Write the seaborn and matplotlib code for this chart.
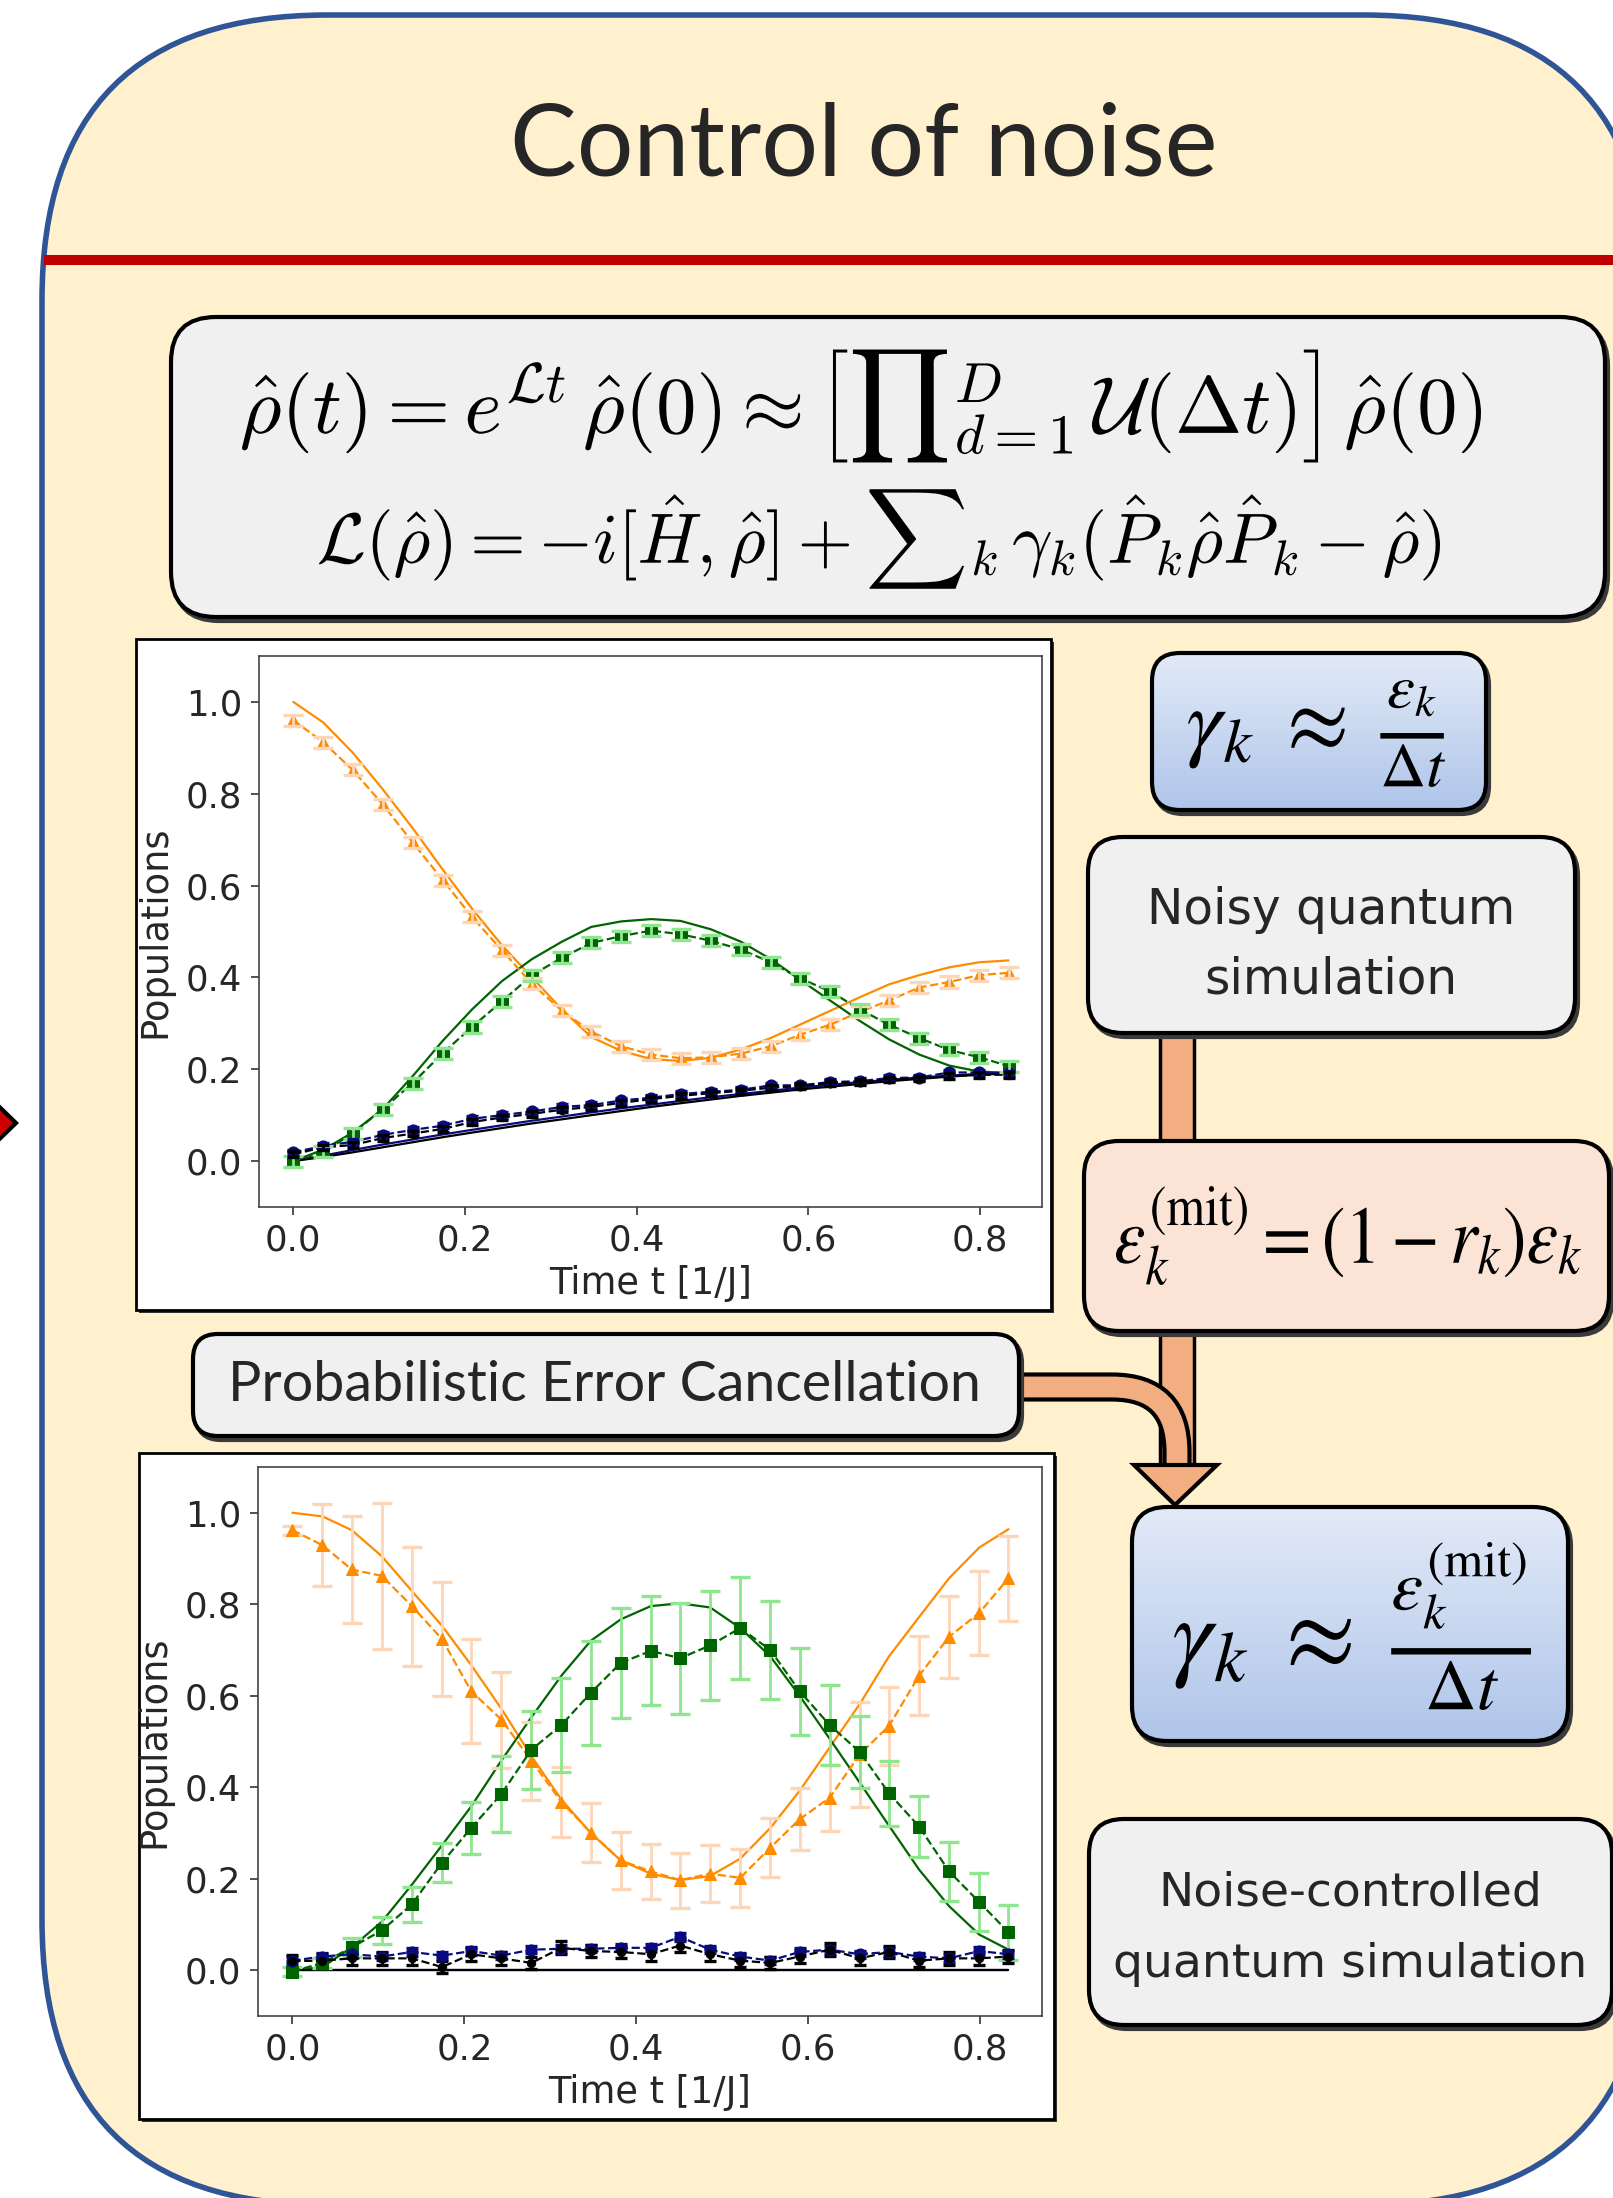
import numpy as np
import seaborn as sns
import matplotlib.pyplot as plt
from matplotlib.patches import FancyBboxPatch, Rectangle, Polygon, PathPatch
from matplotlib.path import Path
from matplotlib.textpath import TextPath
from matplotlib.font_manager import FontProperties
from matplotlib.transforms import Affine2D
from matplotlib.colors import to_rgb

sns.set_style("ticks")
plt.rcParams["font.family"] = ["DejaVu Sans"]
plt.rcParams["mathtext.fontset"] = "cm"

W, H = 1613, 2198

# time grid of the simulation points
times = [0.000, 0.035, 0.069, 0.104, 0.139, 0.174, 0.208, 0.243, 0.278, 0.313,
         0.347, 0.382, 0.417, 0.451, 0.486, 0.521, 0.556, 0.590, 0.625, 0.660,
         0.694, 0.729, 0.764, 0.799, 0.833]

# ---- noisy simulation (upper plot) ----
noisy_exact_orange = [1.000, 0.955, 0.890, 0.810, 0.725, 0.635, 0.550, 0.470, 0.400, 0.330,
                      0.270, 0.240, 0.222, 0.218, 0.225, 0.243, 0.268, 0.297, 0.327, 0.357,
                      0.385, 0.405, 0.422, 0.433, 0.437]
noisy_exact_green = [0.000, 0.025, 0.062, 0.113, 0.185, 0.262, 0.330, 0.392, 0.440, 0.478,
                     0.510, 0.522, 0.527, 0.523, 0.505, 0.478, 0.440, 0.395, 0.350, 0.305,
                     0.265, 0.232, 0.208, 0.195, 0.192]
noisy_exact_blue = [0.000, 0.012, 0.024, 0.036, 0.047, 0.058, 0.068, 0.078, 0.088, 0.097,
                    0.106, 0.115, 0.123, 0.131, 0.139, 0.146, 0.153, 0.160, 0.166, 0.172,
                    0.177, 0.182, 0.186, 0.190, 0.193]
noisy_exact_black = [0.000, 0.009, 0.019, 0.030, 0.041, 0.052, 0.062, 0.072, 0.082, 0.091,
                     0.100, 0.109, 0.118, 0.126, 0.134, 0.142, 0.149, 0.156, 0.162, 0.168,
                     0.174, 0.179, 0.184, 0.188, 0.191]
noisy_orange = [0.960, 0.912, 0.852, 0.777, 0.694, 0.612, 0.532, 0.459, 0.386, 0.327,
                0.282, 0.250, 0.232, 0.224, 0.226, 0.234, 0.250, 0.275, 0.297, 0.325,
                0.350, 0.378, 0.390, 0.405, 0.410]
noisy_green = [0.000, 0.020, 0.060, 0.113, 0.170, 0.235, 0.292, 0.348, 0.405, 0.443,
               0.475, 0.490, 0.502, 0.494, 0.480, 0.461, 0.433, 0.398, 0.370, 0.330,
               0.297, 0.268, 0.242, 0.226, 0.207]
noisy_blue = [0.019, 0.033, 0.042, 0.057, 0.068, 0.077, 0.092, 0.100, 0.108, 0.118,
              0.122, 0.132, 0.138, 0.146, 0.151, 0.155, 0.165, 0.165, 0.172, 0.174,
              0.181, 0.182, 0.193, 0.193, 0.191]
noisy_black = [0.015, 0.030, 0.035, 0.050, 0.060, 0.070, 0.085, 0.095, 0.103, 0.112,
               0.118, 0.127, 0.135, 0.142, 0.148, 0.153, 0.160, 0.163, 0.170, 0.172,
               0.178, 0.180, 0.185, 0.188, 0.188]
noisy_err_orange = [0.012] * 25
noisy_err_green = [0.012] * 25
noisy_err_blue = [0.006] * 25
noisy_err_black = [0.006] * 25

# ---- noise-controlled simulation (lower plot) ----
pec_exact_orange = [1.000, 0.992, 0.962, 0.905, 0.829, 0.753, 0.667, 0.572, 0.468, 0.373,
                    0.300, 0.240, 0.211, 0.197, 0.206, 0.244, 0.311, 0.392, 0.487, 0.582,
                    0.686, 0.772, 0.857, 0.924, 0.964]
pec_exact_green = [0.000, 0.007, 0.050, 0.106, 0.187, 0.273, 0.358, 0.458, 0.553, 0.644,
                   0.720, 0.767, 0.796, 0.802, 0.793, 0.748, 0.686, 0.600, 0.506, 0.410,
                   0.316, 0.220, 0.140, 0.078, 0.045]
pec_exact_blue = [0.0, 0.0, 0.0, 0.0, 0.0, 0.0, 0.0, 0.0, 0.0, 0.0, 0.0, 0.0, 0.0,
                  0.0, 0.0, 0.0, 0.0, 0.0, 0.0, 0.0, 0.0, 0.0, 0.0, 0.0, 0.0]
pec_exact_black = [0.0, 0.0, 0.0, 0.0, 0.0, 0.0, 0.0, 0.0, 0.0, 0.0, 0.0, 0.0, 0.0,
                   0.0, 0.0, 0.0, 0.0, 0.0, 0.0, 0.0, 0.0, 0.0, 0.0, 0.0, 0.0]
pec_orange = [0.962, 0.929, 0.876, 0.862, 0.796, 0.724, 0.610, 0.548, 0.458, 0.368,
              0.301, 0.240, 0.216, 0.197, 0.211, 0.202, 0.268, 0.330, 0.377, 0.472,
              0.534, 0.644, 0.729, 0.781, 0.857]
pec_green = [-0.003, 0.016, 0.050, 0.087, 0.144, 0.235, 0.311, 0.385, 0.482, 0.536,
             0.606, 0.672, 0.698, 0.682, 0.710, 0.748, 0.700, 0.610, 0.536, 0.477,
             0.387, 0.314, 0.216, 0.149, 0.083]
pec_blue = [0.021, 0.030, 0.035, 0.030, 0.040, 0.032, 0.042, 0.032, 0.045, 0.047,
            0.047, 0.049, 0.049, 0.073, 0.045, 0.030, 0.021, 0.040, 0.045, 0.035,
            0.040, 0.030, 0.026, 0.042, 0.035]
pec_black = [0.020, 0.021, 0.026, 0.026, 0.026, 0.007, 0.035, 0.026, 0.016, 0.049,
             0.042, 0.040, 0.035, 0.054, 0.035, 0.021, 0.016, 0.030, 0.045, 0.026,
             0.040, 0.021, 0.026, 0.026, 0.030]
pec_err_orange = [0.010, 0.090, 0.117, 0.160, 0.130, 0.125, 0.113, 0.105, 0.085, 0.077,
                  0.065, 0.062, 0.060, 0.060, 0.062, 0.064, 0.064, 0.068, 0.072, 0.115,
                  0.085, 0.086, 0.090, 0.091, 0.093]
pec_err_green = [0.010, 0.010, 0.020, 0.030, 0.038, 0.043, 0.057, 0.083, 0.085, 0.103,
                 0.113, 0.120, 0.119, 0.121, 0.120, 0.112, 0.107, 0.095, 0.088, 0.078,
                 0.071, 0.067, 0.064, 0.063, 0.060]
pec_err_blue = [0.008] * 25
pec_err_black = [0.014] * 25

x_ticks = [0.0, 0.2, 0.4, 0.6, 0.8]
y_ticks = [0.0, 0.2, 0.4, 0.6, 0.8, 1.0]

ORANGE, ORANGE_ERR = "darkorange", "#FDD6B8"
GREEN, GREEN_ERR = "darkgreen", "#8EE68E"
BLUE = "#0A0A80"
PANEL_FILL, PANEL_EDGE = "#FFF0CE", "#2F5597"
BOX_GRAY, ARROW = "#F0F0F0", "#F2AE80"


def rbox(ax, x0, y0, x1, y1, r, face, lw=3.0, z=3, shadow=True):
    if shadow:
        ax.add_patch(FancyBboxPatch((x0 + 3, y0 + 4), x1 - x0, y1 - y0,
                                    boxstyle=f"round,pad=0,rounding_size={r}",
                                    fc="#3a3a3a", ec="#3a3a3a", lw=lw, zorder=z - 0.3))
    p = FancyBboxPatch((x0, y0), x1 - x0, y1 - y0,
                       boxstyle=f"round,pad=0,rounding_size={r}",
                       fc=face, ec="black", lw=lw, zorder=z)
    ax.add_patch(p)
    return p


def gradient_box(ax, x0, y0, x1, y1, r, top, bottom, z=3):
    p = rbox(ax, x0, y0, x1, y1, r, "none", z=z + 0.2)
    c0, c1 = np.array(to_rgb(top)), np.array(to_rgb(bottom))
    f = np.linspace(0, 1, 200)[:, None, None]
    grad = c0 * (1 - f) + c1 * f
    im = ax.imshow(grad, extent=(x0, x1, y1, y0), origin="upper", aspect="auto", zorder=z)
    im.set_clip_path(p)


def fit_math(ax, s, fontset, box, keep_aspect=False):
    # lay the formula into a pixel box (x0, top, x1, bottom)
    x0, y0, x1, y1 = box
    tp = TextPath((0, 0), s, size=50, prop=FontProperties(math_fontfamily=fontset))
    e = tp.get_extents()
    sx = (x1 - x0) / e.width
    if keep_aspect:
        tr = Affine2D().translate(-e.x0, -(e.y0 + e.y1) / 2).scale(sx, -sx).translate(x0, (y0 + y1) / 2)
    else:
        sy = (y1 - y0) / e.height
        tr = Affine2D().translate(-e.x0, -e.y0).scale(sx, -sy).translate(x0, y1)
    ax.add_patch(PathPatch(tp, fc="black", ec="none", lw=0, transform=tr + ax.transData, zorder=6))


def pix_axes(fig, x0, y0, x1, y1):
    return fig.add_axes([x0 / W, 1 - y1 / H, (x1 - x0) / W, (y1 - y0) / H])


def draw_populations(ax, exact, measured, errs, caps_on_top):
    cols = [ORANGE, GREEN, BLUE, "black"]
    ecols = [ORANGE_ERR, GREEN_ERR, BLUE, "black"]
    marks = ["^", "s", "o", "o"]
    msizes = [8, 8, 8, 6]
    ez = 4.5 if caps_on_top else 2.5
    for i in range(4):
        sns.lineplot(x=times, y=exact[i], color=cols[i], lw=1.6, ax=ax, zorder=2)
    for i in range(4):
        cap = 7.5 if i < 2 else 4
        ax.errorbar(times, measured[i], yerr=errs[i], fmt="none", ecolor=ecols[i],
                    elinewidth=2.0, capsize=cap, capthick=2.4, zorder=ez)
        sns.lineplot(x=times, y=measured[i], color=cols[i], lw=1.6, linestyle="--",
                     marker=marks[i], markersize=msizes[i], markeredgecolor=cols[i],
                     ax=ax, zorder=3)
    ax.set_xlim(-0.04, 0.872)
    ax.set_ylim(-0.1, 1.1)
    ax.set_xticks(x_ticks)
    ax.set_yticks(y_ticks)
    ax.set_xticklabels([f"{v:.1f}" for v in x_ticks], fontsize=25.5)
    ax.set_yticklabels([f"{v:.1f}" for v in y_ticks], fontsize=25.5)
    ax.tick_params(length=6, width=1.2, color="#333333", pad=6)
    for s in ax.spines.values():
        s.set_color("#444444")
        s.set_linewidth(1.2)
    ax.set_xlabel("Time t [1/J]", fontsize=26.5, labelpad=5)
    ax.set_ylabel("Populations", fontsize=26.5, labelpad=9)


fig = plt.figure(figsize=(W / 100, H / 100), dpi=100)
bg = fig.add_axes([0, 0, 1, 1])
bg.set_xlim(0, W)
bg.set_ylim(H, 0)
bg.axis("off")

# big rounded panel
bg.add_patch(FancyBboxPatch((42, 15), 1607, 2190, boxstyle="round,pad=0,rounding_size=285",
                            fc=PANEL_FILL, ec=PANEL_EDGE, lw=4, zorder=1))
bg.add_patch(Rectangle((44, 255), W, 10, fc="#C00000", ec="none", zorder=1.5))
bg.text(864, 175, "Control of noise", fontsize=72, family="Lato", ha="center",
        va="baseline", zorder=2)

# arrow tip peeking in from the left
bg.add_patch(Polygon([(-20, 1088), (16, 1123), (-20, 1158)], closed=True,
                     fc="#D00000", ec="black", lw=3, zorder=2))

# equation box
rbox(bg, 171, 317, 1605, 617, 45, BOX_GRAY)
fit_math(bg, r"$\hat{\rho}(t) = e^{\mathcal{L}t}\,\hat{\rho}(0) \approx "
         r"\left[{\prod}_{d=1}^{D}\,\mathcal{U}(\Delta t)\right]\,\hat{\rho}(0)$",
         "cm", (242, 332, 1481, 480), keep_aspect=True)
fit_math(bg, r"$\mathcal{L}(\hat{\rho}) = -i[\hat{H},\hat{\rho}] + "
         r"{\sum}_k\,\gamma_k(\hat{P}_k\hat{\rho}\hat{P}_k - \hat{\rho})$",
         "cm", (319, 495, 1440, 583), keep_aspect=True)

# plot frames
for (x0, y0, x1, y1) in [(136, 639, 1051, 1310), (139, 1453, 1054, 2119)]:
    bg.add_patch(Rectangle((x0 + 3, y0 + 3), x1 - x0, y1 - y0, fc="#333333", ec="none", zorder=2))
    bg.add_patch(Rectangle((x0, y0), x1 - x0, y1 - y0, fc="white", ec="black", lw=2, zorder=2.2))

# right hand flow chart: arrows first
bg.add_patch(Rectangle((1160, 1025), 34, 125, fc=ARROW, ec="black", lw=2.5, zorder=2.5))
bg.add_patch(Rectangle((1160, 1325), 34, 145, fc=ARROW, ec="black", lw=2.5, zorder=2.5))
bend = Path([(1015, 1387), (1112, 1387), (1177, 1387), (1177, 1452), (1177, 1468)],
            [Path.MOVETO, Path.LINETO, Path.CURVE3, Path.CURVE3, Path.LINETO])
bg.add_patch(PathPatch(bend, fc="none", ec="black", lw=21, capstyle="butt", zorder=2.6))
bg.add_patch(PathPatch(bend, fc="none", ec=ARROW, lw=15, capstyle="butt", zorder=2.7))
bg.add_patch(Polygon([(1134, 1465), (1217, 1465), (1175, 1505)], closed=True,
                     fc=ARROW, ec="black", lw=3, zorder=2.8))

gradient_box(bg, 1152, 653, 1486, 810, 28, "#E3EAF7", "#AFC5EA")
fit_math(bg, r"$\gamma_k\;\approx\;\frac{\varepsilon_k}{\Delta t}$", "stix",
         (1188, 680, 1445, 787))

rbox(bg, 1088, 837, 1575, 1033, 35, BOX_GRAY)
bg.text(1331, 924, "Noisy quantum", fontsize=35, ha="center", va="baseline", zorder=5)
bg.text(1331, 993, "simulation", fontsize=35, ha="center", va="baseline", zorder=5)

rbox(bg, 1084, 1141, 1609, 1331, 35, "#FBE4D5")
fit_math(bg, r"$\varepsilon_k^{(\mathrm{mit})} = (1 - r_k)\varepsilon_k$", "stix",
         (1116, 1186, 1581, 1285))

gradient_box(bg, 1132, 1507, 1568, 1741, 35, "#E3EAF7", "#AFC5EA")
fit_math(bg, r"$\gamma_k\;\approx\;\frac{\varepsilon_k^{(\mathrm{mit})}}{\Delta t}$", "stix",
         (1174, 1542, 1531, 1710))

rbox(bg, 1089, 1819, 1612, 2025, 35, BOX_GRAY)
bg.text(1350, 1906, "Noise-controlled", fontsize=34, ha="center", va="baseline", zorder=5)
bg.text(1350, 1977, "quantum simulation", fontsize=34, ha="center", va="baseline", zorder=5)

rbox(bg, 193, 1334, 1019, 1436, 25, BOX_GRAY)
bg.text(604, 1401, "Probabilistic Error Cancellation", fontsize=40, family="Lato",
        ha="center", va="baseline", zorder=5)

# the two population plots
ax_top = pix_axes(fig, 259, 656, 1042, 1207)
draw_populations(ax_top,
                 [noisy_exact_orange, noisy_exact_green, noisy_exact_blue, noisy_exact_black],
                 [noisy_orange, noisy_green, noisy_blue, noisy_black],
                 [noisy_err_orange, noisy_err_green, noisy_err_blue, noisy_err_black],
                 caps_on_top=True)

ax_bot = pix_axes(fig, 258, 1467, 1042, 2016)
draw_populations(ax_bot,
                 [pec_exact_orange, pec_exact_green, pec_exact_blue, pec_exact_black],
                 [pec_orange, pec_green, pec_blue, pec_black],
                 [pec_err_orange, pec_err_green, pec_err_blue, pec_err_black],
                 caps_on_top=False)

fig.savefig("out.png", dpi=100, facecolor="white")
